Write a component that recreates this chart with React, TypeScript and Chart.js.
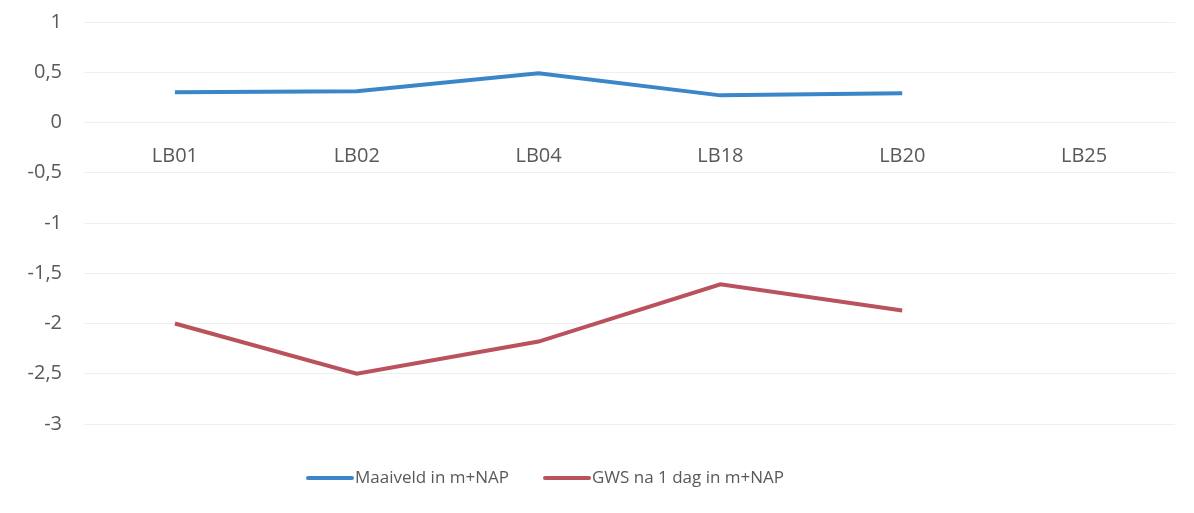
import React, { useEffect, useRef } from "react";
import { Chart, registerables } from "chart.js";

Chart.register(...registerables);

const categories = ["LB01", "LB02", "LB04", "LB18", "LB20", "LB25"];
const maaiveld = [0.3, 0.31, 0.49, 0.27, 0.29, null];
const gws = [-2.0, -2.5, -2.18, -1.61, -1.87, null];
const seriesNames = ["Maaiveld in m+NAP", "GWS na 1 dag in m+NAP"];
const seriesColors = ["#3b86c9", "#b9525c"];
const yMin = -3;
const yMax = 1;
const yStep = 0.5;

const FONT = "'Open Sans', 'Liberation Sans', sans-serif";
const TEXT = "#595959";

const legendPlugin = {
  id: "customLegend",
  afterDraw(chart: any) {
    const ctx = chart.ctx;
    const items = chart.data.datasets;
    const y = 478;
    const starts = [308, 545];
    ctx.save();
    ctx.font = `17px ${FONT}`;
    ctx.textBaseline = "middle";
    ctx.textAlign = "left";
    items.forEach((ds: any, i: number) => {
      const x = starts[i];
      ctx.strokeStyle = ds.borderColor;
      ctx.lineWidth = 4;
      ctx.lineCap = "round";
      ctx.beginPath();
      ctx.moveTo(x, y);
      ctx.lineTo(x + 44, y);
      ctx.stroke();
      ctx.fillStyle = TEXT;
      ctx.fillText(ds.label, x + 47, y);
    });
    ctx.restore();
  },
};

export default function App() {
  const ref = useRef<HTMLCanvasElement | null>(null);
  useEffect(() => {
    document.body.style.margin = "0";
    const canvas = ref.current;
    if (!canvas) return;
    const chart = new Chart(canvas, {
      type: "line",
      data: {
        labels: categories,
        datasets: [
          {
            label: seriesNames[0],
            data: maaiveld,
            borderColor: seriesColors[0],
            backgroundColor: seriesColors[0],
            borderWidth: 4,
            pointRadius: 0,
            tension: 0,
          },
          {
            label: seriesNames[1],
            data: gws,
            borderColor: seriesColors[1],
            backgroundColor: seriesColors[1],
            borderWidth: 4,
            pointRadius: 0,
            tension: 0,
          },
        ],
      },
      plugins: [legendPlugin],
      options: {
        animation: false,
        responsive: false,
        layout: { padding: { top: 0, right: 19, left: 0, bottom: 89 } },
        plugins: {
          tooltip: { enabled: false },
          legend: { display: false },
        },
        scales: {
          x: {
            position: { y: 0 },
            offset: true,
            grid: { display: false, drawTicks: false },
            border: { display: false },
            ticks: {
              color: TEXT,
              padding: 22,
              font: { family: FONT, size: 20 },
              maxRotation: 0,
            },
          },
          y: {
            min: yMin,
            max: yMax,
            afterFit: (s: any) => {
              s.width = 84;
            },
            grid: {
              color: "#efefef",
              lineWidth: 1,
              drawTicks: true,
              tickLength: 12,
              tickColor: "rgba(0,0,0,0)",
            },
            border: { display: false },
            ticks: {
              stepSize: yStep,
              color: TEXT,
              padding: 10,
              font: { family: FONT, size: 20 },
              callback: (v: any) => String(v).replace(".", ","),
            },
          },
        },
      },
    });
    return () => chart.destroy();
  }, []);
  return (
    <div style={{ width: 1194, height: 513, background: "#fff" }}>
      <canvas ref={ref} width={1194} height={513} />
    </div>
  );
}
